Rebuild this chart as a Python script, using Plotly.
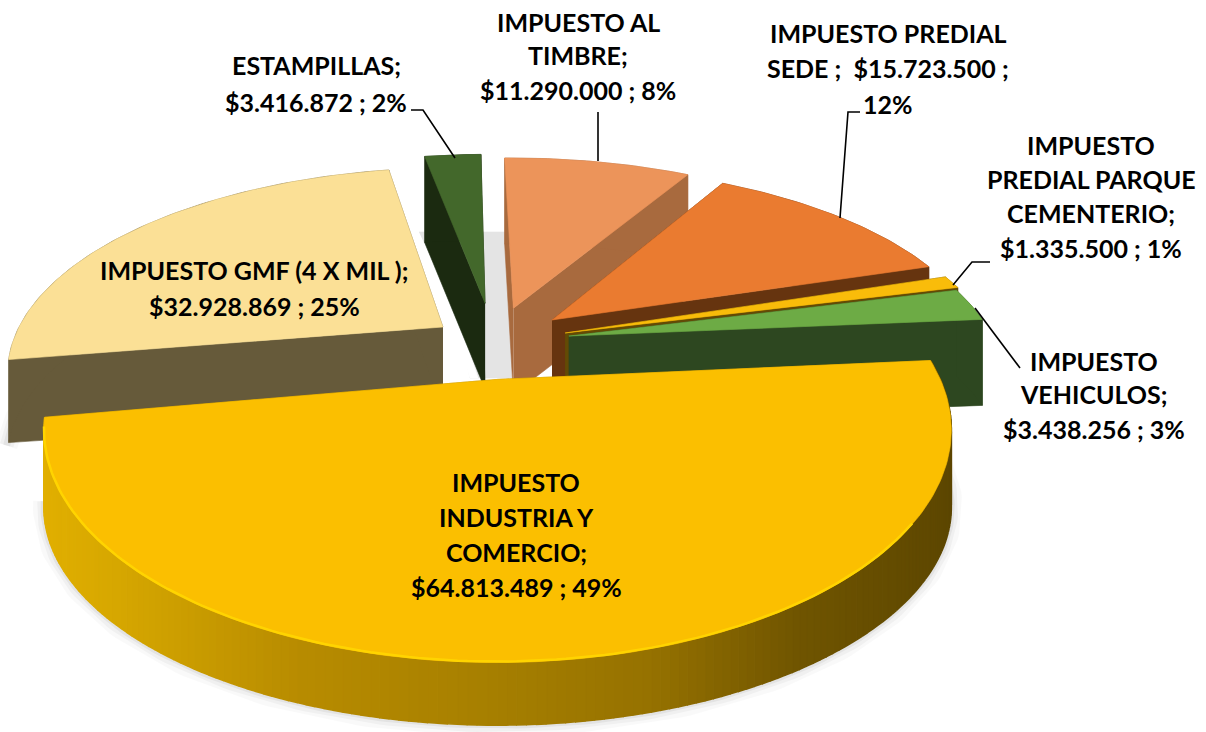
import numpy as np
import plotly.graph_objects as go

# ---- data (clockwise, starting with the front slice) ----
categories = ["IMPUESTO INDUSTRIA Y COMERCIO", "IMPUESTO GMF (4 X MIL )", "ESTAMPILLAS",
              "IMPUESTO AL TIMBRE", "IMPUESTO PREDIAL SEDE", "IMPUESTO PREDIAL PARQUE CEMENTERIO",
              "IMPUESTO VEHICULOS"]
values = [64813489, 32928869, 3416872, 11290000, 15723500, 1335500, 3438256]
top_colors = ["#FBBF00", "#FBE096", "#43682B", "#EC945A", "#EA7B30", "#F9BC0A", "#6DAB45"]
side_colors = ["#A67F00", "#665A3A", "#1B2A10", "#A86A3E", "#66340F", "#634A05", "#2D4720"]
label_lines = [
    ["IMPUESTO", "INDUSTRIA Y", "COMERCIO;", "$64.813.489 ; 49%"],
    ["IMPUESTO GMF (4 X MIL );", "$32.928.869 ; 25%"],
    ["ESTAMPILLAS;", "$3.416.872 ; 2%"],
    ["IMPUESTO AL", "TIMBRE;", "$11.290.000 ; 8%"],
    ["IMPUESTO PREDIAL", "SEDE ;  $15.723.500 ;", "12%"],
    ["IMPUESTO", "PREDIAL PARQUE", "CEMENTERIO;", "$1.335.500 ; 1%"],
    ["IMPUESTO", "VEHICULOS;", "$3.438.256 ; 3%"],
]
label_x = [516, 254, 316, 578, 888, 1091, 1094]
label_y = [[482, 517, 552, 587], [270, 306], [65, 102], [22, 55, 90], [33, 68, 104],
           [145, 179, 213, 248], [361, 394, 429]]

# ---- projection / layout parameters ----
START = 85.0               # angle of first slice, degrees clockwise from the back
CX, CY, S, A, P = 500, 327, 426, 191, 0.2
explode = [(-0.005, 0.26), (-0.134, 0.0), (-0.036, -0.128), (0.032, -0.10),
           (0.123, -0.037), (0.152, 0.031), (0.16, 0.047)]
radius_x = [0.985, 0.995, 1.0, 1.0, 1.0, 1.0, 0.985]
radius_y = [1.04, 1.0, 0.975, 0.975, 0.975, 1.0, 1.0]
gradient_x = [40, 120, 300, 500, 650, 800, 960]
gradient_rgb = [(226, 176, 0), (214, 167, 0), (184, 140, 0), (166, 127, 0), (150, 114, 0), (112, 85, 0), (92, 70, 0)]


def project(x, y):
    w = 1 - P * y
    return CX + S * x / w, CY + A * y / w


def drop(y):
    return 86 - 18 * np.maximum(0, y)


def poly(xs, ys, color, lw=0.6):
    return go.Scatter(x=list(xs), y=list(ys), mode="lines", fill="toself", fillcolor=color,
                      line=dict(color=color, width=lw), hoverinfo="skip", showlegend=False)


def line(xs, ys, color, width):
    return go.Scatter(x=list(xs), y=list(ys), mode="lines", line=dict(color=color, width=width),
                      hoverinfo="skip", showlegend=False)


total = sum(values)
spans = [v / total * 360 for v in values]
starts = START + np.concatenate([[0], np.cumsum(spans)[:-1]])
fig = go.Figure()


def slice_geom(i):
    th = np.radians(np.arange(starts[i], starts[i] + spans[i] + 0.01, 1.0))
    if th[-1] < np.radians(starts[i] + spans[i]):
        th = np.append(th, np.radians(starts[i] + spans[i]))
    ox, oy = explode[i]
    px = ox + radius_x[i] * np.sin(th)
    py = oy - radius_y[i] * np.cos(th)
    rx, ry = project(px, py)
    ax, ay = project(np.array(ox), np.array(oy))
    return rx, ry, drop(py), float(ax), float(ay), float(drop(np.array(oy)))


# floor shadow seen through the gaps between slices
fig.add_trace(poly([419, 512, 512, 470, 455], [232, 232, 378, 378, 310], "#E4E4E4"))
fig.add_trace(poly([442, 470, 478, 452], [300, 378, 378, 300], "#FFFFFF"))

order = [2, 3, 4, 5, 6, 1, 0]
for i in order:
    rx, ry, d, ax, ay, ad = slice_geom(i)
    # soft cast shadow for the big front slices
    if i in (0, 1):
        for w, a in ((22, 0.025), (14, 0.035), (7, 0.05)):
            if i == 0:
                fig.add_trace(line(rx[5:-2], (ry + d)[5:-2], f"rgba(0,0,0,{a})", w))
            else:
                fig.add_trace(line(rx[:14] - 2, (ry + d)[:14] + 3, f"rgba(0,0,0,{a})", w))
    # cut faces
    fig.add_trace(poly([ax, rx[0], rx[0], ax], [ay, ry[0], ry[0] + d[0], ay + ad], side_colors[i]))
    fig.add_trace(poly([ax, rx[-1], rx[-1], ax], [ay, ry[-1], ry[-1] + d[-1], ay + ad], side_colors[i]))
    # rim
    if i == 0:
        for k in range(0, len(rx) - 1):
            mx = (rx[k] + rx[k + 1]) / 2
            c = [np.interp(mx, gradient_x, [g[j] for g in gradient_rgb]) for j in range(3)]
            col = "rgb(%d,%d,%d)" % tuple(c)
            fig.add_trace(poly([rx[k], rx[k + 1], rx[k + 1], rx[k]],
                               [ry[k], ry[k + 1], ry[k + 1] + d[k + 1], ry[k] + d[k]], col, lw=1.6))
    else:
        fig.add_trace(poly(np.r_[rx, rx[::-1]], np.r_[ry, (ry + d)[::-1]], side_colors[i]))
    # top face
    fig.add_trace(poly(np.r_[ax, rx, ax], np.r_[ay, ry, ay], top_colors[i]))
    if i == 0:
        fig.add_trace(line(rx[40:-3], ry[40:-3] - 1, "#FFD400", 2.5))

# leader lines
leaders = [([411, 423, 455], [110, 110, 158]), ([598, 598], [112, 161]),
           ([860, 848, 840], [112, 112, 218]), ([990, 972, 953], [262, 262, 285]),
           ([1020, 975], [368, 308])]
for xs, ys in leaders:
    fig.add_trace(line(xs, ys, "#000000", 1.6))

annotations = []
for lines, x, ys in zip(label_lines, label_x, label_y):
    for t, y in zip(lines, ys):
        annotations.append(dict(x=x, y=y, text=t.replace("  ", "&nbsp; "), showarrow=False, xanchor="center", yanchor="middle",
                                font=dict(family="Lato", size=25, color="#000000", weight="bold")))

fig.update_layout(width=1206, height=732, margin=dict(l=0, r=0, t=0, b=0),
                  paper_bgcolor="#FFFFFF", plot_bgcolor="#FFFFFF", showlegend=False,
                  xaxis=dict(range=[0, 1206], visible=False, fixedrange=True),
                  yaxis=dict(range=[732, 0], visible=False, fixedrange=True),
                  annotations=annotations)
fig.write_html("out.html", config=dict(displayModeBar=False),
               post_script="document.body.style.margin='0';document.body.style.overflow='hidden';")
